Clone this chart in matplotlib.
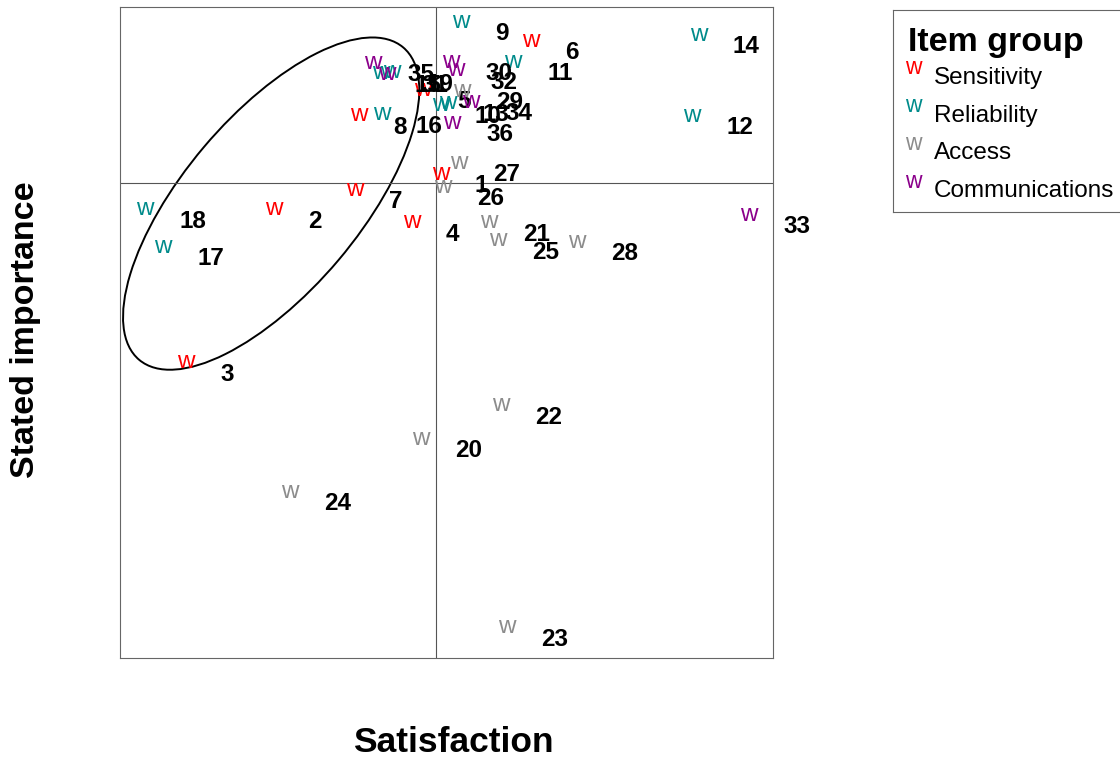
import matplotlib
matplotlib.use("Agg")
import matplotlib.pyplot as plt
from matplotlib.patches import Ellipse

plt.rcParams["font.family"] = ["Liberation Sans", "DejaVu Sans"]

# item scores (satisfaction, stated importance) and item group
items = list(range(1, 37))
satisfaction = [
    3.983, 3.472, 3.202, 3.894, 3.928, 4.259, 3.720, 3.732, 4.044, 3.983,
    4.204, 4.752, 4.005, 4.773, 3.799, 3.802, 3.132, 3.077, 3.833, 3.922,
    4.130, 4.167, 4.185, 3.521, 4.158, 3.989, 4.038, 4.400, 4.047, 4.014,
    3.818, 4.029, 4.927, 4.075, 3.775, 4.017,
]
importance = [
    4.487, 4.379, 3.909, 4.339, 4.745, 4.896, 4.438, 4.668, 4.954, 4.699,
    4.831, 4.665, 4.705, 4.914, 4.797, 4.671, 4.263, 4.379, 4.800, 3.673,
    4.339, 3.777, 3.095, 3.510, 4.284, 4.447, 4.521, 4.278, 4.742, 4.831,
    4.794, 4.806, 4.361, 4.708, 4.828, 4.644,
]
group = [
    "Sensitivity", "Sensitivity", "Sensitivity", "Sensitivity", "Sensitivity",
    "Sensitivity", "Sensitivity", "Sensitivity",
    "Reliability", "Reliability", "Reliability", "Reliability", "Reliability",
    "Reliability", "Reliability", "Reliability", "Reliability", "Reliability",
    "Reliability",
    "Access", "Access", "Access", "Access", "Access", "Access", "Access",
    "Access", "Access", "Access",
    "Communications", "Communications", "Communications", "Communications",
    "Communications", "Communications", "Communications",
]
groups = ["Sensitivity", "Reliability", "Access", "Communications"]
group_colors = ["#ff0000", "#008b8b", "#8c8c8c", "#8b008b"]

mean_sat = 3.968
mean_imp = 4.459
# highlighted cluster ellipse: centre, full width / height, angle
ell_centre = (3.463, 4.396)
ell_width = 1.255
ell_height = 0.539
ell_angle = 49.9

color_of = dict(zip(groups, group_colors))

W, H = 1120, 759
fig = plt.figure(figsize=(W / 100, H / 100), dpi=100)
ax = fig.add_axes([120 / W, 1 - 658 / H, 653 / W, 651 / H])
ax.set_xlim(3.0, 5.0)
ax.set_ylim(3.0, 5.0)
ax.set_xticks([])
ax.set_yticks([])
for sp in ax.spines.values():
    sp.set_color("#666666")
    sp.set_linewidth(0.8)

ax.axvline(mean_sat, color="#555555", lw=0.8)
ax.axhline(mean_imp, color="#555555", lw=0.8)

ax.add_patch(Ellipse(ell_centre, ell_width, ell_height, angle=ell_angle,
                     fill=False, edgecolor="black", lw=1.4))

for n, x, y, g in zip(items, satisfaction, importance, group):
    ax.text(x, y, "w", color=color_of[g], fontsize=17.5,
            ha="center", va="center")
    ax.annotate(str(n), (x, y), xytext=(24.5, -8.6), textcoords="offset points",
                ha="left", va="center", fontsize=17.5, fontweight="bold")

fig.text(453 / W, 1 - 742 / H, "Satisfaction", ha="center", va="center",
         fontsize=25.5, fontweight="bold")
fig.text(26 / W, 1 - 330 / H, "Stated importance", ha="center", va="center",
         rotation=90, fontsize=24.5, fontweight="bold")

# legend box (runs off the right edge)
lax = fig.add_axes([893 / W, 1 - 212 / H, 240 / W, 202 / H])
lax.set_xticks([])
lax.set_yticks([])
for sp in lax.spines.values():
    sp.set_color("#666666")
    sp.set_linewidth(0.8)
fig.text(908 / W, 1 - 43 / H, "Item group", ha="left", va="center",
         fontsize=24.5, fontweight="bold")
for k, (g, c) in enumerate(zip(groups, group_colors)):
    yc = 76 + 37.7 * k
    fig.text(913 / W, 1 - (yc - 8) / H, "w", color=c, fontsize=16.5,
             ha="center", va="center")
    fig.text(934 / W, 1 - (yc + 2) / H, g, ha="left", va="center", fontsize=17.5)

fig.savefig("out.png", dpi=100)
